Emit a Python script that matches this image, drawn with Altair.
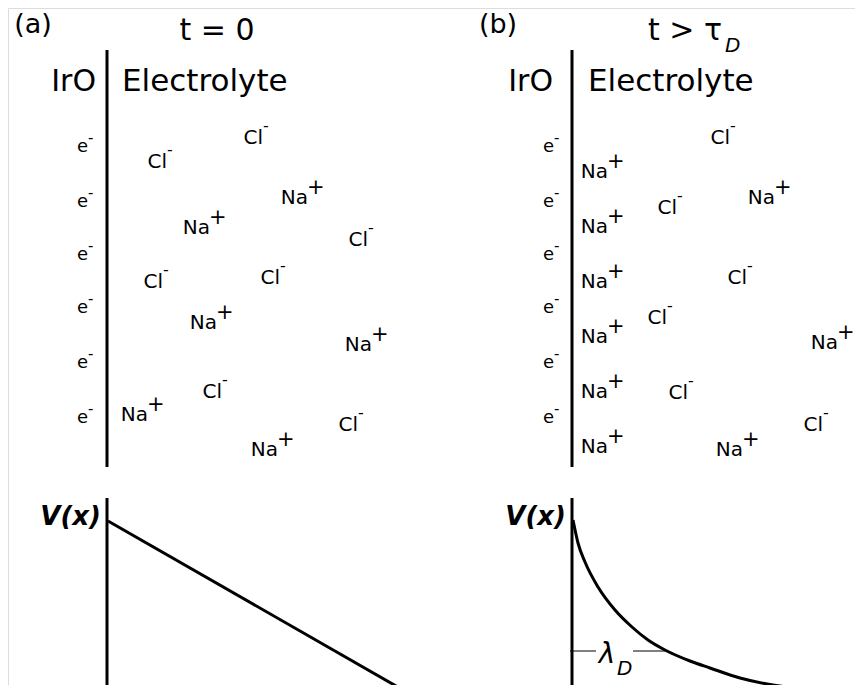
import altair as alt
import pandas as pd

# ---- data (image pixel coordinates) ----
panel_labels = ["(a)", "(b)"]
panel_label_x = [33, 498]
panel_label_y = [25, 25]

irO_x = [96, 553]
electrolyte_x = [122, 588]
header_y = [82, 82]

sep_x = [107, 572]
sep_top = [50, 50]
sep_bottom = [467, 467]

e_x = [88, 554]
e_y = [147, 202, 255, 308, 363, 418]

a_na_x = [308, 210, 217, 372, 148, 278]
a_na_y = [198, 228, 323, 345, 415, 450]
a_cl_x = [167, 263, 368, 163, 280, 222, 358]
a_cl_y = [162, 138, 240, 282, 278, 392, 425]

b_na_x = [608, 608, 608, 608, 608, 608, 775, 838, 743]
b_na_y = [172, 227, 282, 337, 392, 447, 198, 343, 450]
b_cl_x = [730, 677, 747, 667, 688, 823]
b_cl_y = [138, 208, 278, 318, 393, 425]

pot_axis_x = [107, 572]
pot_axis_top = [498, 498]
pot_axis_bottom = [692, 692]
vx_x = [101, 566]
vx_y = [517, 517]

line_a_x = [108, 403]
line_a_y = [521, 690]

curve_b_x = [573, 578, 585, 598, 615, 632, 648, 665, 690, 710, 740, 773, 807, 840, 860]
curve_b_y = [520, 543, 562, 587, 610, 627, 640, 650, 661, 668, 678, 685, 689, 691, 691]

lam_seg_x = [570, 633]
lam_seg_x2 = [596, 666]
lam_y = 651

# ---- scales: pixel space of the page ----
W, H = 847, 677
xs = alt.Scale(domain=[8, 8 + W], nice=False, zero=False)
ys = alt.Scale(domain=[8, 8 + H], nice=False, zero=False, reverse=True)
X = lambda f: alt.X(f, type="quantitative", scale=xs, axis=None)
Y = lambda f: alt.Y(f, type="quantitative", scale=ys, axis=None)

FONT = "DejaVu Sans"

def df(**kw):
    return pd.DataFrame(kw)

layers = []

# panel labels
layers.append(alt.Chart(df(x=panel_label_x, y=panel_label_y, t=panel_labels)).mark_text(
    font=FONT, fontSize=27, align="center", baseline="middle", color="black"
).encode(x=X("x"), y=Y("y"), text="t:N"))

# titles
layers.append(alt.Chart(df(x=[217], y=[31], t=["t = 0"])).mark_text(
    font=FONT, fontSize=30, align="center", baseline="middle", color="black"
).encode(x=X("x"), y=Y("y"), text="t:N"))
layers.append(alt.Chart(df(x=[722], y=[31], t=["t > τ"])).mark_text(
    font=FONT, fontSize=30, align="right", baseline="middle", color="black"
).encode(x=X("x"), y=Y("y"), text="t:N"))
layers.append(alt.Chart(df(x=[725], y=[46], t=["D"])).mark_text(
    font=FONT, fontSize=20, fontStyle="italic", align="left", baseline="middle", color="black"
).encode(x=X("x"), y=Y("y"), text="t:N"))

# headers
layers.append(alt.Chart(df(x=irO_x, y=header_y, t=["IrO", "IrO"])).mark_text(
    font=FONT, fontSize=30, align="right", baseline="middle", color="black"
).encode(x=X("x"), y=Y("y"), text="t:N"))
layers.append(alt.Chart(df(x=electrolyte_x, y=header_y, t=["Electrolyte", "Electrolyte"])).mark_text(
    font=FONT, fontSize=31, align="left", baseline="middle", color="black"
).encode(x=X("x"), y=Y("y"), text="t:N"))

# separators
layers.append(alt.Chart(df(x=sep_x, y=sep_top, y2=sep_bottom)).mark_rule(
    strokeWidth=3, color="black"
).encode(x=X("x"), y=Y("y"), y2="y2:Q"))
layers.append(alt.Chart(df(x=pot_axis_x, y=pot_axis_top, y2=pot_axis_bottom)).mark_rule(
    strokeWidth=3, color="black", clip=False
).encode(x=X("x"), y=Y("y"), y2="y2:Q"))

# electrons
ex = [e_x[0]] * len(e_y) + [e_x[1]] * len(e_y)
ey = e_y + e_y
edf = df(x=ex, y=ey, b=["e"] * len(ex), s=["-"] * len(ex))
layers.append(alt.Chart(edf).mark_text(
    font=FONT, fontSize=18, align="right", baseline="middle", color="black"
).encode(x=X("x"), y=Y("y"), text="b:N"))
layers.append(alt.Chart(edf).mark_text(
    font=FONT, fontSize=15, align="left", baseline="middle", dy=-9, color="black"
).encode(x=X("x"), y=Y("y"), text="s:N"))

# ions
na_df = df(x=a_na_x + b_na_x, y=a_na_y + b_na_y, b="Na", s="+")
cl_df = df(x=a_cl_x + b_cl_x, y=a_cl_y + b_cl_y, b="Cl", s="-")
ion_df = pd.concat([na_df, cl_df], ignore_index=True)
layers.append(alt.Chart(ion_df).mark_text(
    font=FONT, fontSize=20, align="right", baseline="middle", color="black"
).encode(x=X("x"), y=Y("y"), text="b:N"))
layers.append(alt.Chart(na_df).mark_text(
    font=FONT, fontSize=21, align="left", baseline="middle", dx=-1, dy=-10, color="black"
).encode(x=X("x"), y=Y("y"), text="s:N"))
layers.append(alt.Chart(cl_df).mark_text(
    font=FONT, fontSize=16, align="left", baseline="middle", dy=-12, color="black"
).encode(x=X("x"), y=Y("y"), text="s:N"))

# V(x) labels
layers.append(alt.Chart(df(x=vx_x, y=vx_y, t=["V(x)", "V(x)"])).mark_text(
    font=FONT, fontSize=26, fontStyle="italic", fontWeight="bold", align="right",
    baseline="middle", color="black"
).encode(x=X("x"), y=Y("y"), text="t:N"))

# potentials
layers.append(alt.Chart(df(x=line_a_x, y=line_a_y, o=[0, 1])).mark_line(
    strokeWidth=3, color="black", clip=False
).encode(x=X("x"), y=Y("y"), order="o:Q"))
layers.append(alt.Chart(df(x=curve_b_x, y=curve_b_y, o=list(range(len(curve_b_x))))).mark_line(
    strokeWidth=3, color="black", interpolate="monotone", clip=False
).encode(x=X("x"), y=Y("y"), order="o:Q"))

# lambda_D marker
layers.append(alt.Chart(df(x=lam_seg_x, x2=lam_seg_x2, y=[lam_y, lam_y])).mark_rule(
    strokeWidth=1, color="black"
).encode(x=X("x"), x2="x2:Q", y=Y("y")))
layers.append(alt.Chart(df(x=[607], y=[655], t=["λ"])).mark_text(
    font=FONT, fontSize=28, fontStyle="italic", align="center", baseline="middle", color="black"
).encode(x=X("x"), y=Y("y"), text="t:N"))
layers.append(alt.Chart(df(x=[617], y=[669], t=["D"])).mark_text(
    font=FONT, fontSize=20, fontStyle="italic", align="left", baseline="middle", color="black"
).encode(x=X("x"), y=Y("y"), text="t:N"))

chart = alt.layer(*layers).properties(
    width=W, height=H, padding=0,
    autosize=alt.AutoSizeParams(type="none"),
).configure_view(stroke=None).configure(background="white")

chart.save("out.html", embed_options={"renderer": "svg", "actions": False})
